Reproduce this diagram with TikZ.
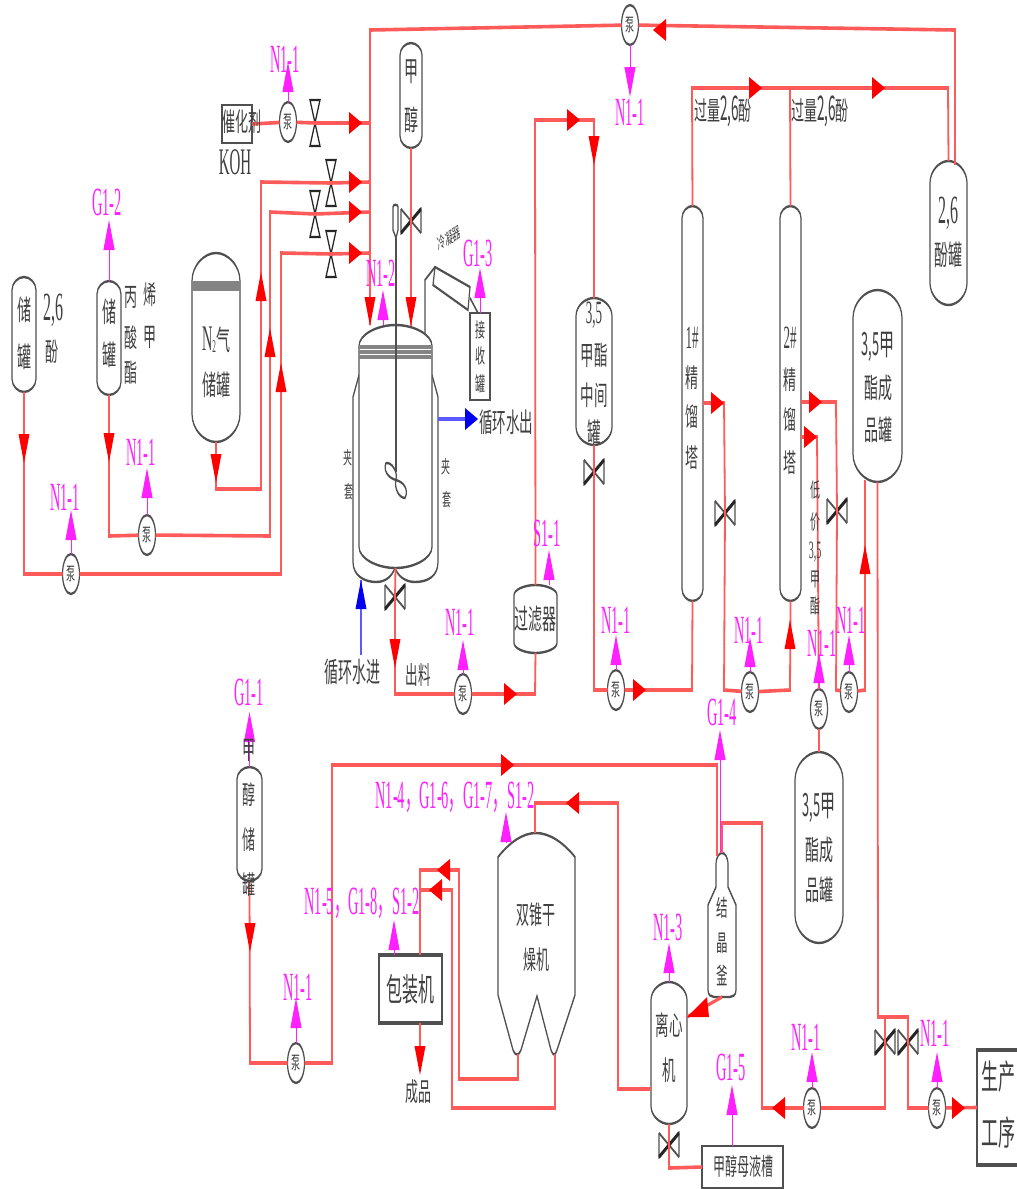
\documentclass[tikz,border=0pt]{standalone}
\usepackage{fontspec}
\usepackage{graphicx}
\setmainfont{Liberation Serif}
\newfontfamily\cjk{Noto Sans CJK SC}
\usetikzlibrary{shapes.geometric,arrows.meta}
\definecolor{ink}{HTML}{404040}
\definecolor{wall}{HTML}{505050}
\definecolor{pipered}{HTML}{FF5A5A}
\definecolor{headred}{HTML}{FF0000}
\definecolor{magtag}{HTML}{FF20FF}
\definecolor{waterblue}{HTML}{5A5AFF}
\definecolor{headblue}{HTML}{0000F0}
\tikzset{
  wallline/.style={draw=wall,line width=1.2pt,fill=white},
  openline/.style={draw=wall,line width=1.2pt},
  boxline/.style={draw=wall,line width=1.6pt,fill=white},
  pipe/.style={draw=pipered,line width=1.8pt,line join=miter},
  waterpipe/.style={draw=waterblue,line width=1.8pt},
  redhead/.style={fill=headred},
  bluehead/.style={fill=headblue},
  magup/.style={draw=magtag,line width=1pt,-{Triangle[length=15pt,width=11pt]}},
  anchorbox/.style={rectangle,inner sep=0pt,outer sep=0pt},
  pumpnode/.style={ellipse,draw=wall,line width=1.2pt,fill=white,minimum width=17pt,minimum height=20pt,inner sep=0pt,outer sep=0pt,text=ink,font=\cjk\fontsize{9}{9}\selectfont},
  textnode/.style={inner sep=0pt,text=ink},
  maglabel/.style={inner sep=0pt,text=magtag,font=\fontsize{20}{20}\selectfont},
  thinvalve/.style={draw=wall,line width=1.2pt},
  heavyvalve/.style={draw=black!85,line width=2pt},
}
\newcommand{\vessel}[6]{%
  \pgfmathsetmacro\vcx{(#2+#3)/2}\pgfmathsetmacro\vmy{(#4+#5)/2}%
  \pgfmathsetmacro\vhh{(#5-#4)/2}\pgfmathsetmacro\vww{#3-#2}%
  \pgfmathsetmacro\vkx{(#3-#2)*0.25}\pgfmathsetmacro\vky{#6*0.45}%
  \draw[wallline] (#2,#4+#6) .. controls (#2,#4+\vky) and (\vcx-\vkx,#4) .. (\vcx,#4)
    .. controls (\vcx+\vkx,#4) and (#3,#4+\vky) .. (#3,#4+#6) -- (#3,#5-#6)
    .. controls (#3,#5-\vky) and (\vcx+\vkx,#5) .. (\vcx,#5)
    .. controls (\vcx-\vkx,#5) and (#2,#5-\vky) .. (#2,#5-#6) -- cycle;
  \node[anchorbox,minimum width=\vww pt,minimum height=\vhh pt] (#1) at (\vcx,\vmy) {};%
}
\newcommand{\pumpat}[3]{\node[pumpnode] (#1) at (#2,#3) {泵};}
\newcommand{\valveV}[3]{% bow tie on a vertical pipe
  \coordinate (#1) at (#2,#3);
  \draw[thinvalve] (#2-10,#3-12) -- (#2-10,#3+12) -- (#2+10,#3-12) -- (#2+10,#3+12);
  \draw[heavyvalve] (#2-10,#3+12) -- (#2+10,#3-12);
  \draw[thinvalve] (#2-10,#3-12) -- (#2+10,#3+12);}
\newcommand{\valveH}[3]{% hourglass on a horizontal pipe
  \coordinate (#1) at (#2,#3);
  \draw[heavyvalve,line width=1.2pt] (#2-5,#3-23) -- (#2+5,#3-23) -- (#2-5,#3+23) -- (#2+5,#3+23) -- cycle;}
\newcommand{\arrR}[3][redhead]{\fill[#1] (#2-13,#3-11) -- (#2,#3) -- (#2-13,#3+11) -- cycle;}
\newcommand{\arrL}[3][redhead]{\fill[#1] (#2+13,#3-11) -- (#2,#3) -- (#2+13,#3+11) -- cycle;}
\newcommand{\arrU}[3][redhead]{\fill[#1] (#2-5.5,#3+29) -- (#2,#3) -- (#2+5.5,#3+29) -- cycle;}
\newcommand{\arrD}[3][redhead]{\fill[#1] (#2-5.5,#3-29) -- (#2,#3) -- (#2+5.5,#3-29) -- cycle;}
\newcommand{\cnlab}[5]{\node[textnode,font=\cjk\fontsize{#4}{#4}\selectfont] (#1) at (#2,#3) {#5};}
\newcommand{\ltlab}[5]{\pgfmathsetmacro\ltsz{#4*1.25}\node[textnode,font=\fontsize{\ltsz}{\ltsz}\selectfont] (#1) at (#2,#3) {\scalebox{.8}[1]{#5}};}
\newcommand{\mglab}[4]{\node[maglabel] (#1) at (#2,#3) {\scalebox{.72}[1]{#4}};}
\newcommand{\comma}{{\cjk ，}}
\newcommand{\latin}[2]{{\fontsize{#1}{#1}\selectfont\scalebox{.8}[1]{#2}}}
\begin{document}
\begin{tikzpicture}
\useasboundingbox (0,0) rectangle (1017pt,-1189pt);
\fill[white] (0,0) rectangle (1017pt,-1189pt);
\begin{scope}[x=1pt,y=-0.5pt,transform canvas={yscale=2}]
% ---------- vessels ----------
\vessel{tA}{12}{36}{277}{392}{13}
\vessel{tB}{97}{121}{281}{395}{13}
\vessel{tN}{192}{240}{253}{442}{28}
\draw[openline,line width=1.6pt,draw=wall!70] (192,283) -- (240,283) (192,286) -- (240,286) (192,289) -- (240,289);
\vessel{tMe}{400}{422}{43}{148}{12}
\draw[wallline] (359,375) -- (353,397) -- (353,562) .. controls (353,576) and (365,582) .. (376,582)
  .. controls (386,582) and (392,576) .. (395,568) .. controls (398,576) and (405,582) .. (415,582)
  .. controls (428,582) and (438,576) .. (438,562) -- (438,397) -- (432,375);
\vessel{reactor}{359}{432}{325}{568}{21}
\draw[openline,line width=1.6pt,draw=wall!70] (359,347) -- (432,347) (359,352) -- (432,352) (359,357) -- (432,357);
\node[anchorbox,draw=wall,line width=1.2pt,fill=white,minimum width=20pt,minimum height=43.5pt] (recv) at (480,356.5) {};
\vessel{tF}{514}{557}{585}{653}{10}
\vessel{tMid}{576}{612}{298}{445}{18}
\vessel{col1}{682}{703}{206}{601}{12}
\vessel{col2}{780}{801}{206}{601}{12}
\vessel{t26}{930}{967}{161}{305}{22}
\vessel{tPr}{853}{902}{290}{482}{28}
\vessel{tPr2}{795}{843}{752}{943}{28}
\vessel{tMeOH}{237}{262}{767}{881}{12}
\draw[wallline] (716,865) .. controls (716,857) and (719,853) .. (722,853) .. controls (725,853) and (728,857) .. (728,865)
  -- (728,887) -- (736,905) -- (736,990) .. controls (736,995) and (733,997) .. (730,997) -- (714,997)
  .. controls (711,997) and (708,995) .. (708,990) -- (708,905) -- (716,887) -- cycle;
\node[anchorbox,minimum width=28pt,minimum height=72pt] (cryst) at (722,925) {};
\vessel{centri}{651}{687}{982}{1124}{18}
\draw[wallline] (498,857) .. controls (510,842) and (523,833) .. (536,833) .. controls (549,833) and (563,842) .. (575,857)
  -- (575,995) -- (557,1050) .. controls (555,1056) and (553,1056) .. (551,1050) -- (537,996) -- (521,1050)
  .. controls (519,1056) and (515,1056) .. (513,1050) -- (498,995) -- cycle;
\node[anchorbox,minimum width=77pt,minimum height=111pt] (dryer) at (536.5,944) {};
\coordinate (dryL) at (518,1054);
\coordinate (dryR) at (555,1054);
\node[anchorbox,draw=wall,line width=1.6pt,fill=white,minimum width=63pt,minimum height=34pt] (pack) at (410.5,989) {};
\node[anchorbox,draw=wall,line width=1.2pt,fill=white,minimum width=30pt,minimum height=19pt] (kohbox) at (237,124) {};
\draw[boxline,fill=none] (1017,1050) -- (977,1050) -- (977,1165) -- (1017,1165);
\node[anchorbox,minimum width=40pt,minimum height=57.5pt] (prod) at (997,1107.5) {};
\node[anchorbox,draw=wall,line width=1.2pt,fill=white,minimum width=81pt,minimum height=21pt] (mother) at (742.5,1167) {};
% condenser and stirrer
\draw[wallline] (435,267) -- (470,287) -- (468,310) -- (433,285) -- cycle;
\draw[openline] (425,333) -- (425,280) -- (435,267);
\draw[openline] (470,298) -- (478,313);
\draw[openline] (396,238) -- (396,472);
\draw[wallline] (393,207) .. controls (393,204) and (398,204) .. (398,207) -- (398,230) -- (396,238) -- (393,230) -- cycle;
\draw[openline] (396,480) .. controls (388,478) and (383,470) .. (386,463) .. controls (392,462) and (398,472) .. (396,480)
  .. controls (404,482) and (409,490) .. (405,498) .. controls (399,498) and (394,488) .. (396,480);
% ---------- valves ----------
\valveH{vA}{315}{123}
\valveH{vB}{331}{183}
\valveH{vC}{315}{214}
\valveH{vD}{331}{254}
\valveV{vMe}{411}{221}
\valveV{vOut}{395}{597}
\valveV{vMid}{594}{472}
\valveV{vC1}{725}{513}
\valveV{vC2}{837}{511}
\valveV{vP1}{885}{1042}
\valveV{vP2}{908}{1042}
\valveV{vCen}{669}{1145}
% ---------- pumps ----------
\pumpat{pA}{288}{122}
\pumpat{pTop}{630}{25}
\pumpat{p1}{71}{574}
\pumpat{p2}{147}{535}
\pumpat{p3}{463}{694}
\pumpat{p4}{616}{690}
\pumpat{p5}{750}{692}
\pumpat{p6}{819}{709}
\pumpat{p7}{849}{692}
\pumpat{p8}{296}{1063}
\pumpat{p9}{812}{1108}
\pumpat{p10}{937}{1108}
% ---------- free ends ----------
\coordinate (t26R) at (955,165);
\coordinate (crL) at (717,856);
\coordinate (crR) at (722,853);
\coordinate (col2b) at (801,437);
\coordinate (col2a) at (801,402);
\coordinate (col1a) at (703,403);
\coordinate (cenL) at (651,1089);
\coordinate (cenDiag) at (687,1017);
\coordinate (crBot) at (722,997);
\coordinate (jacket) at (438,419);
\coordinate (jackIn) at (361,580);
\coordinate (waterIn) at (361,655);
\coordinate (dryTop) at (535,833);
\coordinate (packTop) at (420,955);
\coordinate (packBot) at (420,1023);
\coordinate (tPrL) at (865,480);
% ---------- pipes ----------
\draw[pipe] (t26R) -- (955,30) -- (pTop) -- (370,30) -- (reactor.north -| 370,0);
\draw[pipe] (col1.north) -- (692,88) -- (948,88) -- (t26.north);
\draw[pipe] (col2.north) -- (790,88);
\draw[pipe] (kohbox.east) -- (pA) -- (vA) -- (370,123);
\draw[pipe] (tN.south) -- (216,489) -- (261,489) -- (261,182) -- (vB) -- (370,182);
\draw[pipe] (tB.south) -- (109,536) -- (p2) -- (270,536) -- (270,212) -- (vC) -- (370,212);
\draw[pipe] (tA.south) -- (24,574) -- (p1) -- (281,574) -- (281,253) -- (vD) -- (370,253);
\draw[pipe] (tMe.south) -- (vMe) -- (411,326);
\draw[pipe] (reactor.south) -- (vOut) -- (395,694) -- (p3) -- (535,694) -- (tF.south);
\draw[pipe] (tF.north) -- (535,120) -- (594,120) -- (tMid.north);
\draw[pipe] (tMid.south) -- (vMid) -- (594,690) -- (p4) -- (692,690) -- (col1.south);
\draw[pipe] (col1a) -- (724,403) -- (vC1) -- (724,690) -- (p5) -- (790,690) -- (col2.south);
\draw[pipe] (col2a) -- (836,402) -- (vC2) -- (836,690) -- (p7) -- (865,690) -- (tPrL);
\draw[pipe] (col2b) -- (817,437) -- (p6);
\draw[pipe] (p6) -- (tPr2.north);
\draw[pipe] (tPr.south) -- (878,1017) -- (908,1017) -- (vP2) -- (908,1108) -- (p10) -- (prod.west);
\draw[pipe] (885,1017) -- (vP1) -- (885,1108) -- (p9) -- (762,1108) -- (762,823) -- (722,823) -- (crR);
\draw[pipe] (tMeOH.south) -- (250,1063) -- (p8) -- (332,1063) -- (332,765) -- (717,765) -- (crL);
\draw[pipe] (cenL) -- (618,1089) -- (618,803) -- (535,803) -- (dryTop);
\draw[pipe] (dryL) -- (518,1079) -- (459,1079) -- (459,870) -- (420,870) -- (packTop);
\draw[pipe] (dryR) -- (555,1108) -- (452,1108) -- (452,890) -- (420,890);
\draw[pipe] (packBot) -- (420,1070);
\draw[pipe] (centri.south) -- (vCen) -- (669,1168) -- (mother.west);
\draw[pipe] (crBot) -- (cenDiag);
\draw[waterpipe] (jacket) -- (470,419);
\draw[waterpipe] (waterIn) -- (jackIn);
% ---------- red arrow heads ----------
\arrL{653}{30}
\arrR{362}{123}\arrR{362}{182}\arrR{362}{212}\arrR{362}{253}
\arrD{370}{326}\arrD{411}{326}
\arrU{261}{272}\arrU{270}{328}\arrU{281}{363}
\arrD{216}{483}\arrD{109}{462}\arrD{24}{463}
\arrD{395}{668}\arrR{517}{694}
\arrR{580}{120}\arrD{594}{165}
\arrR{762}{88}\arrR{885}{88}
\arrR{646}{690}
\arrR{724}{403}\arrU{790}{620}
\arrR{822}{402}\arrR{817}{437}\arrU{865}{545}
\arrL{772}{1108}\arrR{965}{1108}
\arrR{514}{765}\arrD{250}{952}
\arrL{566}{803}\arrL{437}{870}\arrL{429}{890}
\arrD{420}{1075}
\fill[redhead] (687,1017) -- (707,997) -- (709,1017) -- cycle;
% blue arrow heads
\arrR[bluehead]{478}{419}
\arrU[bluehead]{361}{580}
% ---------- magenta tags ----------
\mglab{nA}{285}{59}{N1-1}
\mglab{nTop}{630}{112}{N1-1}
\mglab{n1}{65}{497}{N1-1}
\mglab{n2}{141}{452}{N1-1}
\mglab{n3}{460}{622}{N1-1}
\mglab{n4}{616}{620}{N1-1}
\mglab{n5}{749}{630}{N1-1}
\mglab{n6}{822}{643}{N1-1}
\mglab{n7}{851}{620}{N1-1}
\mglab{n8}{298}{987}{N1-1}
\mglab{n9}{806}{1037}{N1-1}
\mglab{n10}{935}{1033}{N1-1}
\mglab{gA}{107}{202}{G1-2}
\mglab{gB}{478}{253}{G1-3}
\mglab{gC}{249}{692}{G1-1}
\mglab{gD}{722}{712}{G1-4}
\mglab{gE}{731}{1067}{G1-5}
\mglab{sA}{547}{533}{S1-1}
\mglab{nR}{381}{273}{N1-2}
\mglab{nC}{668}{927}{N1-3}
\mglab{nD}{455}{797}{N1-4\comma G1-6\comma G1-7\comma S1-2}
\mglab{nP}{362}{903}{N1-5\comma G1-8\comma S1-2}
\draw[magup] (pA.north) -- (pA.north |- 0,62);
\draw[magup] (pTop.south) -- (pTop.south |- 0,97);
\draw[magup] (p1.north) -- (p1.north |- 0,510);
\draw[magup] (p2.north) -- (p2.north |- 0,468);
\draw[magup] (p3.north) -- (p3.north |- 0,640);
\draw[magup] (p4.north) -- (p4.north |- 0,635);
\draw[magup] (p5.north) -- (p5.north |- 0,637);
\draw[magup] (p6.north) -- (p6.north |- 0,653);
\draw[magup] (p7.north) -- (p7.north |- 0,635);
\draw[magup] (p8.north) -- (p8.north |- 0,998);
\draw[magup] (p9.north) -- (p9.north |- 0,1052);
\draw[magup] (p10.north) -- (p10.north |- 0,1052);
\draw[magup] (tB.north) -- (tB.north |- 0,220);
\draw[magup] (recv.north) -- (recv.north |- 0,268);
\draw[magup] (tMeOH.north) -- (tMeOH.north |- 0,712);
\draw[magup] (cryst.north -| 720,0) -- (720,730);
\draw[magup] (mother.north -| 732,0) -- (732,1085);
\draw[magup] (tF.north -| 549,0) -- (549,550);
\draw[magup] (reactor.north -| 383,0) -- (383,290);
\draw[magup] (centri.north) -- (centri.north |- 0,943);
\draw[magup] (dryer.north -| 506,0) ++(0,9) -- (506,812);
\draw[magup] (pack.north -| 394,0) -- (394,920);
% ---------- texts ----------
\cnlab{a1}{24}{310}{14}{储}\cnlab{a2}{24}{357}{14}{罐}
\ltlab{a3}{53}{310}{16}{2,6}\cnlab{a4}{52}{352}{13}{酚}
\cnlab{b1}{109}{312}{14}{储}\cnlab{b2}{109}{355}{14}{罐}
\cnlab{b3}{131}{297}{13}{丙}\cnlab{b4}{131}{338}{13}{酸}\cnlab{b5}{131}{373}{13}{酯}
\cnlab{b6}{150}{295}{13}{烯}\cnlab{b7}{150}{337}{13}{甲}
\node[textnode,font=\fontsize{18}{18}\selectfont] (c1) at (216,340) {\scalebox{.8}[1]{N\raisebox{-1pt}{\fontsize{9}{9}\selectfont 2}}{\cjk\fontsize{14}{14}\selectfont 气}};
\cnlab{c2}{216}{385}{14}{储罐}
\cnlab{k1}{242}{122}{13}{催化剂}
\ltlab{k2}{235}{162}{15}{KOH}
\cnlab{m1}{411}{72}{14}{甲}\cnlab{m2}{411}{120}{14}{醇}
\node[textnode,font=\cjk\fontsize{8}{8}\selectfont,rotate=17] (cond) at (449,238) {冷凝器};
\cnlab{r1}{480}{330}{10}{接}\cnlab{r2}{480}{356}{10}{收}\cnlab{r3}{480}{384}{10}{罐}
\cnlab{j1}{348}{458}{9}{夹}\cnlab{j2}{349}{492}{9}{套}
\cnlab{j3}{446}{467}{9}{夹}\cnlab{j4}{447}{500}{9}{套}
\cnlab{w1}{506}{422}{13.5}{循环水出}
\cnlab{w2}{352}{672}{14}{循环水进}
\cnlab{o1}{418}{675}{12.5}{出料}
\cnlab{f1}{535}{619}{14}{过滤器}
\ltlab{mid1}{594}{315}{13}{3,5}
\cnlab{mid2}{594}{355}{13.5}{甲酯}\cnlab{mid3}{594}{395}{13.5}{中间}\cnlab{mid4}{594}{432}{13.5}{罐}
\node[textnode,font=\cjk\fontsize{13}{13}\selectfont] (x1) at (723,111) {过量\latin{17}{2,6}酚};
\node[textnode,font=\cjk\fontsize{13}{13}\selectfont] (x2) at (820,111) {过量\latin{17}{2,6}酚};
\ltlab{h1}{692}{338}{13}{1\#}\cnlab{h2}{692}{378}{13}{精}\cnlab{h3}{692}{417}{13}{馏}\cnlab{h4}{692}{458}{13}{塔}
\ltlab{i1}{790}{338}{13}{2\#}\cnlab{i2}{790}{380}{13}{精}\cnlab{i3}{790}{420}{13}{馏}\cnlab{i4}{790}{463}{13}{塔}
\ltlab{t1}{948}{213}{16}{2,6}\cnlab{t2}{948}{255}{14}{酚罐}
\node[textnode,font=\cjk\fontsize{15}{15}\selectfont] (pr1) at (878,347) {\latin{16}{3,5}甲};
\cnlab{pr2}{878}{388}{14}{酯成}\cnlab{pr3}{878}{430}{14}{品罐}
\node[textnode,font=\cjk\fontsize{15}{15}\selectfont] (pq1) at (819,808) {\latin{16}{3,5}甲};
\cnlab{pq2}{819}{850}{14}{酯成}\cnlab{pq3}{819}{890}{14}{品罐}
\cnlab{l1}{815}{490}{10}{低}\cnlab{l2}{815}{522}{10}{价}\ltlab{l3}{815}{552}{10}{3,5}\cnlab{l4}{815}{580}{10}{甲}\cnlab{l5}{815}{606}{10}{酯}
\cnlab{me1}{249}{750}{13}{甲}\cnlab{me2}{249}{795}{13}{醇}\cnlab{me3}{249}{840}{13}{储}\cnlab{me4}{249}{885}{13}{罐}
\cnlab{pk}{410}{989}{16}{包装机}
\cnlab{out}{418}{1092}{13}{成品}
\cnlab{d1}{536}{915}{13}{双锥干}\cnlab{d2}{536}{960}{13}{燥机}
\cnlab{cr1}{722}{908}{11.5}{结}\cnlab{cr2}{722}{943}{11.5}{晶}\cnlab{cr3}{722}{975}{11.5}{釜}
\cnlab{ce1}{669}{1025}{13.5}{离心}\cnlab{ce2}{669}{1070}{13.5}{机}
\cnlab{mo}{743}{1166}{12}{甲醇母液槽}
\cnlab{g1}{998}{1077}{17}{生产}\cnlab{g2}{998}{1133}{17}{工序}
\end{scope}
\end{tikzpicture}
\end{document}
